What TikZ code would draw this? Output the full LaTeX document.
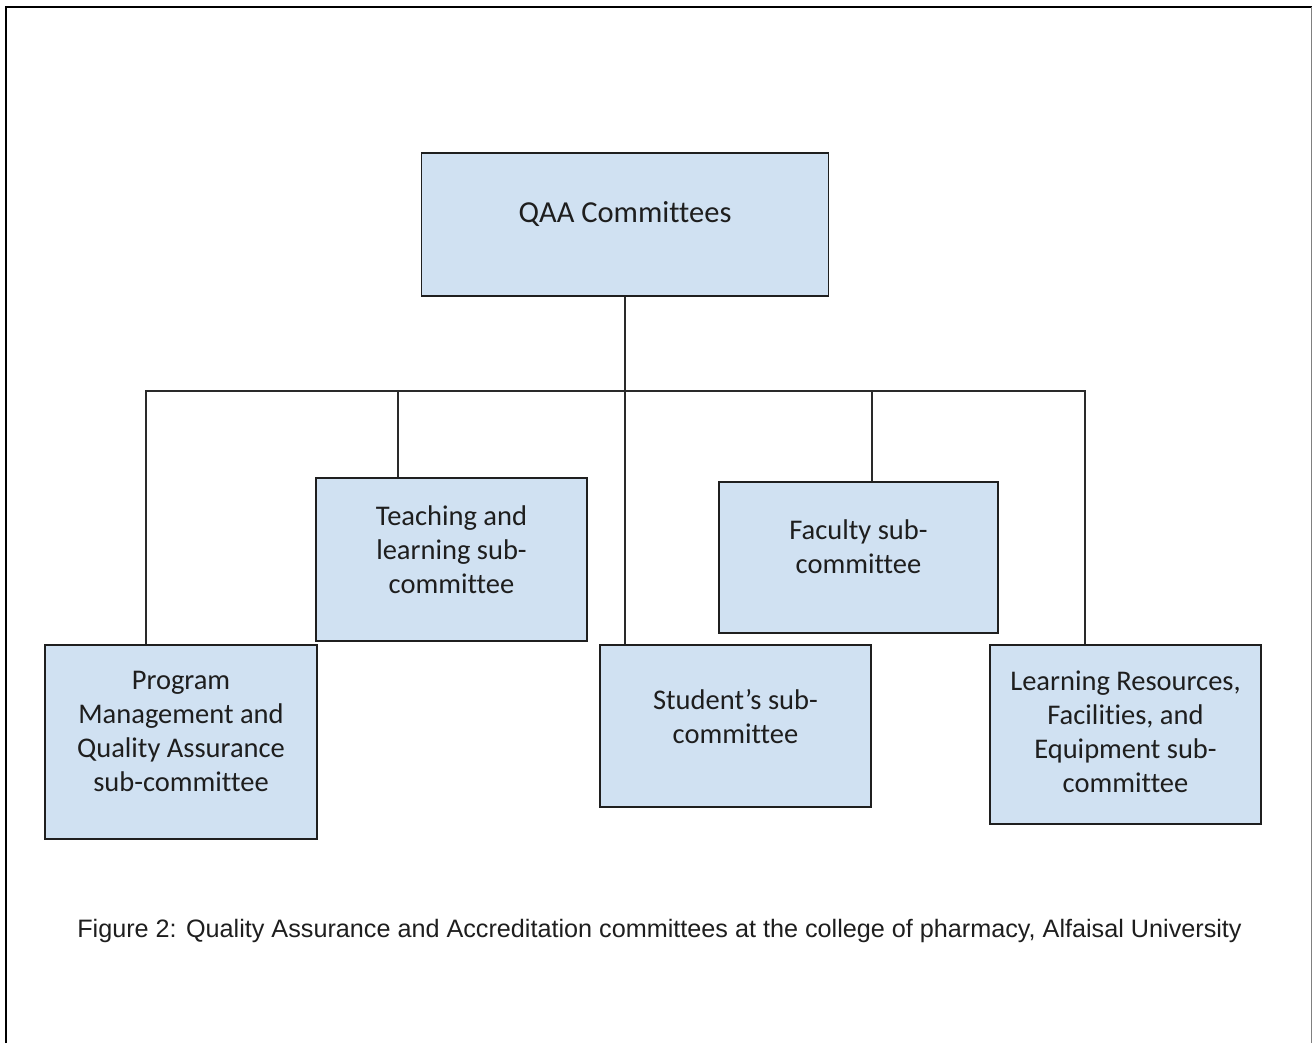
\documentclass[tikz,border=0pt]{standalone}
\usepackage{fontspec}
\setmainfont[Ligatures=NoCommon]{Carlito}
\newfontfamily\captionfont{Liberation Sans}
\definecolor{boxfill}{HTML}{D0E1F2}
\definecolor{boxline}{HTML}{1F1F1F}
\definecolor{linkcol}{HTML}{2A2A2A}
\definecolor{txt}{HTML}{1E1E1E}
\begin{document}
\begin{tikzpicture}[x=1pt,y=-1pt,
  unitbox/.style={draw=boxline, line width=1.8pt, fill=boxfill, rectangle, inner sep=0pt},
  boxtext/.style={font=\fontsize{28.5}{34}\selectfont, text=txt, align=center, inner sep=0pt},
  link/.style={draw=linkcol, line width=1.5pt}]
\useasboundingbox (0,0) rectangle (1313,1043);
% page frame
\draw[line width=2.5pt, black] (6,1043) -- (6,7) -- (1312,7);
\draw[line width=1.2pt, gray] (1311.5,7) -- (1311.5,1043);

% committee boxes
\node[unitbox, minimum width=407pt, minimum height=143pt,
  label={[boxtext, font=\fontsize{30.5}{36}\selectfont, yshift=10.5pt]center:{QAA Committees}}] (qaa) at (625,224.5) {};
\node[unitbox, minimum width=271pt, minimum height=163pt,
  label={[boxtext, yshift=9.5pt]center:{Teaching and\\learning sub-\\committee}}] (teach) at (451.5,559.5) {};
\node[unitbox, minimum width=279pt, minimum height=151pt,
  label={[boxtext, yshift=10.5pt]center:{Faculty sub-\\committee}}] (fac) at (858.5,557.5) {};
\node[unitbox, minimum width=272pt, minimum height=194pt,
  label={[boxtext, yshift=10.5pt]center:{Program\\Management and\\Quality Assurance\\sub-committee}}] (prog) at (181,742) {};
\node[unitbox, minimum width=271pt, minimum height=162pt,
  label={[boxtext, yshift=9pt]center:{Student’s sub-\\committee}}] (student) at (735.5,726) {};
\node[unitbox, minimum width=271pt, minimum height=179pt,
  label={[boxtext, yshift=2.5pt]center:{Learning Resources,\\Facilities, and\\Equipment sub-\\committee}}] (learn) at (1125.5,734.5) {};

% connectors
\coordinate (busL) at (146,391);
\coordinate (busR) at (1085,391);
\draw[link] (qaa.south) -- (qaa.south |- student.north);
\draw[link] ([xshift=-35pt]prog.north) -- (busL) -- (busR) -- ([xshift=-40.5pt]learn.north);
\draw[link] ([xshift=-53.5pt]teach.north) -- ([xshift=-53.5pt]teach.north |- busL);
\draw[link] ([xshift=13.5pt]fac.north) -- ([xshift=13.5pt]fac.north |- busL);

% caption
\node[font=\captionfont\fontsize{25.2}{29}\selectfont, text=txt, inner sep=0pt] (cap) at (659.5,931)
  {Figure 2: Quality Assurance and Accreditation committees at the college of pharmacy, Alfaisal University};
\end{tikzpicture}
\end{document}
